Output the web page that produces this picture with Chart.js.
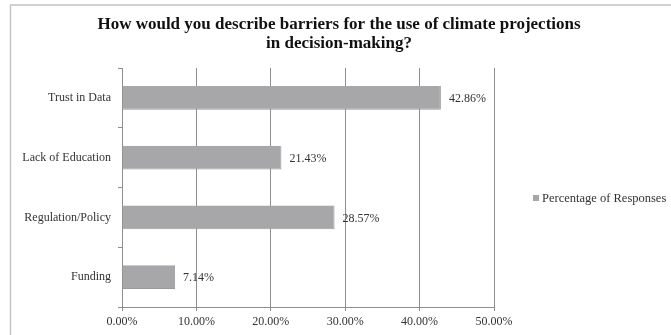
<!DOCTYPE html>
<html>
<head>
<meta charset="utf-8">
<script src="https://cdn.jsdelivr.net/npm/chart.js@4/dist/chart.umd.min.js"></script>
<style>
  html, body { margin: 0; padding: 0; background: #fff; }
  #wrap { width: 671px; height: 335px; position: relative; }
</style>
</head>
<body>
<div id="wrap"><canvas id="barriers"></canvas></div>
<script>
// survey answers, share of responses in percent
const categories = ['Trust in Data', 'Lack of Education', 'Regulation/Policy', 'Funding'];
const responses = [42.86, 21.43, 28.57, 7.14];
const xTicks = [0, 10, 20, 30, 40, 50];
const seriesName = 'Percentage of Responses';
const titleLines = ['How would you describe barriers for the use of climate projections', 'in decision-making?'];

const SERIF = "'Liberation Serif', 'DejaVu Serif', serif";
const BAR_GREY = '#a7a7a9';

// grey frame along the top and left edges, plus the two-line heading
const frame = {
  id: 'frame',
  beforeDraw(chart) {
    const ctx = chart.ctx;
    ctx.save();
    ctx.strokeStyle = '#c4c4c4';
    ctx.lineWidth = 1.5;
    ctx.beginPath();
    ctx.moveTo(10.5, chart.height);
    ctx.lineTo(10.5, 5);
    ctx.lineTo(chart.width, 5);
    ctx.stroke();

    ctx.font = 'bold 17px ' + SERIF;
    ctx.fillStyle = '#111';
    ctx.textAlign = 'center';
    ctx.textBaseline = 'middle';
    titleLines.forEach((line, i) => ctx.fillText(line, 339, 25 + i * 18.5));
    ctx.restore();
  }
};

// value printed just past the end of each bar
const barValues = {
  id: 'barValues',
  afterDatasetsDraw(chart) {
    const ctx = chart.ctx;
    const meta = chart.getDatasetMeta(0);
    ctx.save();
    ctx.font = '12px ' + SERIF;
    ctx.fillStyle = '#333';
    ctx.textBaseline = 'middle';
    ctx.textAlign = 'left';
    meta.data.forEach((bar, i) => {
      const v = chart.data.datasets[0].data[i];
      ctx.fillText(v.toFixed(2) + '%', bar.x + 8, bar.y + 1);
    });
    ctx.restore();
  }
};

// single legend entry to the right of the plot
const sideLegend = {
  id: 'sideLegend',
  afterDraw(chart) {
    const ctx = chart.ctx;
    const x = 533, y = 198;
    ctx.save();
    ctx.fillStyle = BAR_GREY;
    ctx.fillRect(x, y - 3, 6, 6);
    ctx.font = '12.5px ' + SERIF;
    ctx.fillStyle = '#333';
    ctx.textBaseline = 'middle';
    ctx.fillText(chart.data.datasets[0].label, x + 9, y + 1);
    ctx.restore();
  }
};

new Chart(document.getElementById('barriers'), {
  type: 'bar',
  data: {
    labels: categories,
    datasets: [{
      label: seriesName,
      data: responses,
      backgroundColor: BAR_GREY,
      borderColor: '#9a9a9c',
      borderWidth: { top: 0, left: 0, right: 1, bottom: 1 },
      categoryPercentage: 1,
      barPercentage: 0.4
    }]
  },
  options: {
    indexAxis: 'y',
    responsive: true,
    maintainAspectRatio: false,
    animation: false,
    layout: { padding: { left: 0, right: 177, top: 68, bottom: 0 } },
    scales: {
      x: {
        min: 0,
        max: 50,
        afterBuildTicks(axis) { axis.ticks = xTicks.map(v => ({ value: v })); },
        afterFit(axis) { axis.height = 28; },
        grid: { color: '#8e8e8e', lineWidth: 1, tickLength: 4 },
        border: { color: '#8e8e8e' },
        ticks: {
          padding: 4,
          color: '#333',
          font: { family: SERIF, size: 12 },
          callback: v => v.toFixed(2) + '%'
        }
      },
      y: {
        afterFit(axis) { axis.width = 122; },
        grid: { drawOnChartArea: false, offset: true, tickLength: 4, color: '#8e8e8e' },
        border: { color: '#8e8e8e' },
        ticks: {
          padding: 7,
          color: '#333',
          font: { family: SERIF, size: 12 }
        }
      }
    },
    plugins: {
      legend: { display: false },
      tooltip: { enabled: false },
      title: { display: false }
    }
  },
  plugins: [frame, barValues, sideLegend]
});
</script>
</body>
</html>
